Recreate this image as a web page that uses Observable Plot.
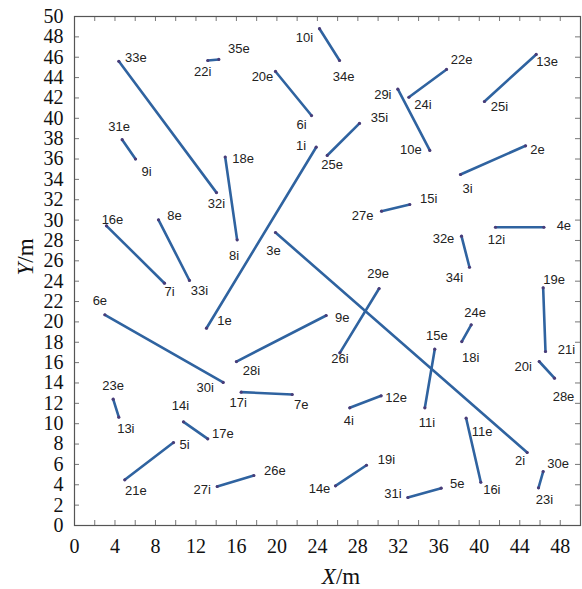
<!DOCTYPE html>
<html>
<head>
<meta charset="utf-8">
<script src="https://cdn.jsdelivr.net/npm/d3@7"></script>
<script src="https://cdn.jsdelivr.net/npm/@observablehq/plot@0.6"></script>
<style>
  html, body { margin: 0; padding: 0; background: #fff; }
  #chart svg { display: block; }
</style>
</head>
<body>
<div id="chart"></div>
<script>
// ---- data: each segment runs from a start endpoint to an end endpoint ----
const startLabel = ["33e","22i","20e","31e","18e","10i","35i","1i","29i","24i","25i","3i","16e","8e","3e","6e","28i","15i","12i","32e","19e","29e","24e","15e","20i","23e","14i","21e","27i","17i","4i","11e","14e","31i","30e"];
const startX = [4.38,13.17,19.86,4.71,14.89,24.21,28.16,23.88,31.95,33.04,40.51,38.14,3.16,8.3,19.86,3.0,16.0,33.13,41.6,38.24,46.31,30.1,39.2,35.6,45.92,3.82,10.77,4.97,14.1,16.47,27.2,38.7,25.79,32.94,46.31];
const startY = [45.6,45.68,44.6,37.9,36.2,48.8,39.5,37.16,42.86,42.07,41.65,34.48,29.44,30.03,28.78,20.7,16.1,31.53,29.3,28.42,23.35,23.28,19.71,17.32,16.11,12.41,10.18,4.49,3.83,13.1,11.56,10.54,3.9,2.75,5.3];
const endLabel = ["32i","35e","6i","9i","8i","34e","25e","1e","10e","22e","13e","2e","7i","33i","2i","30i","9e","27e","4e","34i","21i","26i","18i","11i","28e","13i","17e","5i","26e","7e","12e","16i","19i","5e","23i"];
const endX = [14.03,14.26,23.42,6.03,16.07,26.19,24.97,13.04,35.11,36.76,45.62,44.57,8.89,11.36,44.73,14.69,24.87,30.34,46.38,39.03,46.54,26.22,38.27,34.62,47.43,4.38,13.17,9.78,17.72,21.51,30.3,40.15,28.85,36.23,45.85];
const endY = [32.7,45.78,40.27,36.0,28.06,45.68,36.35,19.38,36.84,44.8,46.27,37.3,23.8,24.07,7.17,14.05,20.63,30.88,29.3,25.37,17.09,16.96,18.07,11.56,14.47,10.64,8.51,8.15,4.91,12.87,12.74,4.25,5.92,3.67,3.7];

// tick values
const xTickLabels = [0,4,8,12,16,20,24,28,32,36,40,44,48];
const xTickMarks = [0,2,4,6,8,10,12,14,16,18,20,22,24,26,28,30,32,34,36,38,40,42,44,46,48,50];
const yTickLabels = [0,2,4,6,8,10,12,14,16,18,20,22,24,26,28,30,32,34,36,38,40,42,44,46,48,50];

// ---- layout (pixel offsets of each endpoint label from its endpoint) ----
const labelOffset = {
  "33e":[17,-3], "22i":[-5,11], "35e":[20,-11], "20e":[-13,5], "31e":[-3,-13], "9i":[11,13],
  "18e":[18,2], "6i":[-10,9], "1i":[-15,-1], "10i":[-15,9], "34e":[4,16], "22e":[15,-10],
  "29i":[-15,6], "24i":[14,8], "35i":[20,-6], "25e":[5,9], "10e":[-19,-1], "13e":[11,7],
  "25i":[15,5], "2e":[12,4], "3i":[7,14], "32i":[0,11], "15i":[19,-6], "16e":[6,-6],
  "8e":[16,-4], "8i":[-3,16], "3e":[-2,18], "7i":[5,9], "33i":[10,10], "6e":[-5,-14],
  "1e":[18,-7], "28i":[15,9], "30i":[-18,5], "27e":[-19,5], "4e":[20,-1], "12i":[1,13],
  "32e":[-18,3], "34i":[-15,11], "19e":[11,-8], "29e":[-1,-15], "9e":[16,2], "24e":[4,-12],
  "18i":[9,16], "15e":[2,-13], "26i":[0,6], "21i":[21,-2], "20i":[-16,5], "28e":[9,19],
  "23e":[0,-13], "13i":[7,12], "14i":[-3,-16], "17e":[15,-5], "5i":[11,2], "21e":[11,11],
  "27i":[-15,3], "26e":[21,-5], "17i":[-3,11], "7e":[9,10], "12e":[15,2], "4i":[-1,13],
  "11i":[2,15], "11e":[16,14], "2i":[-7,8], "30e":[15,-8], "19i":[20,-5], "14e":[-16,3],
  "31i":[-15,-4], "5e":[16,-4], "16i":[11,8], "23i":[6,12]
};

const W = 582, H = 589;
const mL = 74, mR = 2, mT = 16, mB = 64;
const plotW = W - mL - mR, plotH = H - mT - mB;
const tickLen = 5;
const lineColor = "#2f63a0";
const serif = "Liberation Serif, Times New Roman, serif";

const segments = startLabel.map((s, i) => ({
  a: s, x1: startX[i], y1: startY[i],
  b: endLabel[i], x2: endX[i], y2: endY[i]
}));
const endpoints = segments.flatMap(d => [
  {label: d.a, x: d.x1, y: d.y1},
  {label: d.b, x: d.x2, y: d.y2}
]);

const labelMarks = endpoints.map(p => {
  const [dx, dy] = labelOffset[p.label] || [8, 8];
  return Plot.text([p], {
    x: "x", y: "y", text: "label", dx, dy,
    fontFamily: "Liberation Sans, Arial, sans-serif", fontSize: 13,
    fill: "#222", textAnchor: "middle", lineAnchor: "middle"
  });
});

const chart = Plot.plot({
  width: W, height: H,
  marginLeft: mL, marginRight: mR, marginTop: mT, marginBottom: mB,
  x: {domain: [0, 50]},
  y: {domain: [0, 50]},
  style: {background: "#fff", color: "#111"},
  marks: [
    // inward tick marks on all four sides
    Plot.tickX(xTickMarks, {x: d => d, insetTop: plotH - tickLen, stroke: "#777", strokeWidth: 1}),
    Plot.tickX(xTickMarks, {x: d => d, insetBottom: plotH - tickLen, stroke: "#777", strokeWidth: 1}),
    Plot.tickY(yTickLabels, {y: d => d, insetRight: plotW - tickLen, stroke: "#777", strokeWidth: 1}),
    Plot.tickY(yTickLabels, {y: d => d, insetLeft: plotW - tickLen, stroke: "#777", strokeWidth: 1}),
    Plot.frame({stroke: "#555", strokeWidth: 1.2}),
    Plot.axisX({ticks: xTickLabels, tickSize: 0, tickPadding: 13, label: null,
      fontFamily: serif, fontSize: 20, fill: "#111"}),
    Plot.axisY({ticks: yTickLabels, tickSize: 0, tickPadding: 11, label: null,
      fontFamily: serif, fontSize: 20, fill: "#111"}),
    Plot.link(segments, {x1: "x1", y1: "y1", x2: "x2", y2: "y2",
      stroke: lineColor, strokeWidth: 2.6, strokeLinecap: "round"}),
    Plot.dot(endpoints, {x: "x", y: "y", r: 1.6, fill: "#4a3c78"}),
    ...labelMarks
  ]
});

document.getElementById("chart").appendChild(chart);

// axis titles with italic variable letter
const svg = d3.select(chart);
const xt = svg.append("text")
  .attr("x", 341).attr("y", 584)
  .attr("text-anchor", "middle")
  .attr("font-family", serif)
  .attr("font-size", 23).attr("fill", "#111");
xt.append("tspan").attr("font-style", "italic").text("X");
xt.append("tspan").text("/m");

const yt = svg.append("text")
  .attr("transform", "translate(33,257) rotate(-90)")
  .attr("text-anchor", "middle")
  .attr("font-family", serif)
  .attr("font-size", 23).attr("fill", "#111");
yt.append("tspan").attr("font-style", "italic").text("Y");
yt.append("tspan").text("/m");
</script>
</body>
</html>
